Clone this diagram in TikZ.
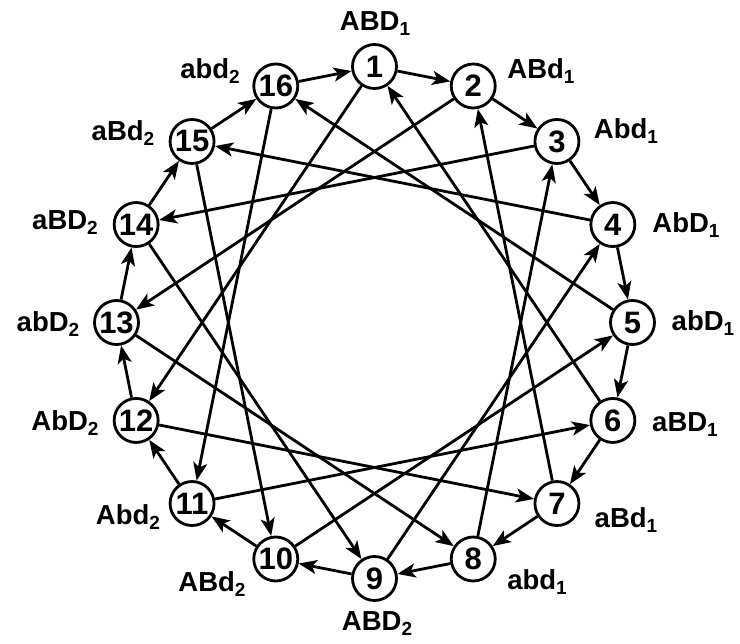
\documentclass[tikz,border=0pt]{standalone}
\usepackage{fontspec}
\setmainfont{Liberation Sans}
\usetikzlibrary{arrows.meta}
\newcommand{\lbl}[2]{#1\raisebox{-5pt}{\fontsize{19}{19}\selectfont #2}}
\begin{document}
\begin{tikzpicture}[x=1pt,y=-1pt,
  st/.style={circle,draw,line width=2.8pt,minimum size=44pt,inner sep=0pt,font=\fontsize{31}{31}\selectfont\bfseries},
  lb/.style={font=\fontsize{27.5}{27.5}\selectfont\bfseries,inner sep=0pt},
  ar/.style={line width=2.8pt,-{Stealth[length=18pt,width=14pt,inset=4.5pt]}}]
\useasboundingbox (0,0) rectangle (740,644);
\foreach \i in {1,...,16}{
  \node[st] (n\i) at ({374.5+258*cos(90-22.5*(\i-1))},{322.5-256*sin(90-22.5*(\i-1))}) {\i};
}
\foreach \i in {1,...,16}{
  \pgfmathtruncatemacro{\nx}{mod(\i,16)+1}
  \pgfmathtruncatemacro{\ny}{mod(\i+10,16)+1}
  \draw[ar] (n\i) -- (n\nx);
  \draw[ar] (n\i) -- (n\ny);
}
\node[lb] (l1) at (375,24) {\lbl{ABD}{1}};
\node[lb] (l2) at (541,71) {\lbl{ABd}{1}};
\node[lb] (l3) at (626,131) {\lbl{Abd}{1}};
\node[lb] (l4) at (686,225) {\lbl{AbD}{1}};
\node[lb] (l5) at (703,323) {\lbl{abD}{1}};
\node[lb] (l6) at (685,425) {\lbl{aBD}{1}};
\node[lb] (l7) at (626,520) {\lbl{aBd}{1}};
\node[lb] (l8) at (537,582) {\lbl{abd}{1}};
\node[lb] (l9) at (377,624) {\lbl{ABD}{2}};
\node[lb] (l10) at (212,584) {\lbl{ABd}{2}};
\node[lb] (l11) at (128,517) {\lbl{Abd}{2}};
\node[lb] (l12) at (65,423) {\lbl{AbD}{2}};
\node[lb] (l13) at (48,324) {\lbl{abD}{2}};
\node[lb] (l14) at (65,223) {\lbl{aBD}{2}};
\node[lb] (l15) at (123,133) {\lbl{aBd}{2}};
\node[lb] (l16) at (210,71) {\lbl{abd}{2}};
\end{tikzpicture}
\end{document}
